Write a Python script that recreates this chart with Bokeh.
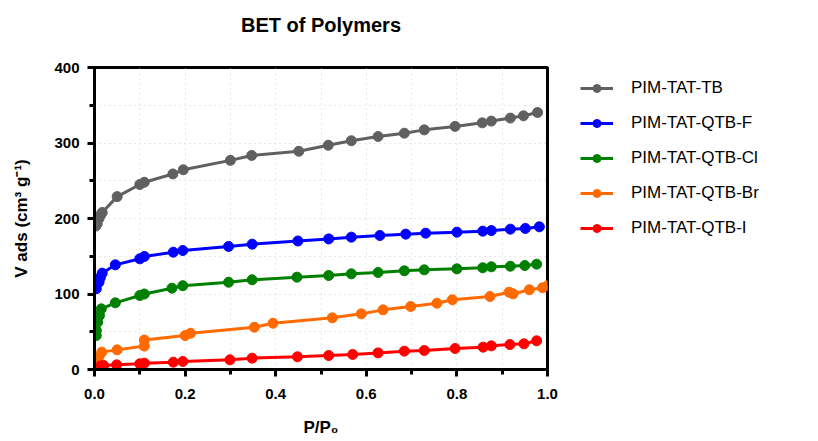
from bokeh.plotting import figure
from bokeh.models import FixedTicker, PrintfTickFormatter, Legend, LegendItem, Range1d, Title
from bokeh.embed import file_html
from bokeh.resources import INLINE

# Nitrogen adsorption isotherms (relative pressure vs. adsorbed volume)
tb_p = [0.003, 0.006, 0.010, 0.014, 0.017, 0.050, 0.100, 0.110, 0.173, 0.196, 0.300, 0.347,
        0.451, 0.516, 0.567, 0.626, 0.684, 0.728, 0.796, 0.856, 0.876, 0.918, 0.947, 0.978]
tb_v = [190, 193, 200, 205, 208, 229, 245, 248, 259, 264.5, 277, 283.5,
        289, 297, 303, 308.6, 313, 317.4, 322, 326.7, 329, 333, 336, 340.4]

f_p = [0.004, 0.010, 0.013, 0.017, 0.046, 0.100, 0.110, 0.174, 0.195, 0.296, 0.348,
       0.449, 0.517, 0.567, 0.630, 0.687, 0.731, 0.800, 0.857, 0.876, 0.918, 0.951, 0.982]
f_v = [107, 115.6, 122, 127.6, 138.6, 146.6, 149.7, 155.4, 157.6, 163, 166,
       170.2, 173, 175.3, 177.5, 179.3, 180.6, 181.9, 183.2, 184, 185.9, 186.8, 189]

cl_p = [0.004, 0.004, 0.007, 0.011, 0.015, 0.046, 0.100, 0.110, 0.171, 0.195, 0.296, 0.348,
        0.447, 0.517, 0.567, 0.626, 0.684, 0.728, 0.800, 0.857, 0.876, 0.918, 0.950, 0.976]
cl_v = [45, 51.6, 62.7, 71.5, 80.3, 88.3, 98, 100, 107.7, 111, 115.6, 118.8,
        122.3, 124.5, 126.7, 128.5, 130.7, 132, 133.3, 134.7, 136, 136.8, 137.7, 139.5]

br_p = [0.004, 0.006, 0.010, 0.016, 0.050, 0.110, 0.110, 0.200, 0.212, 0.353, 0.394,
        0.525, 0.589, 0.637, 0.698, 0.756, 0.790, 0.873, 0.915, 0.924, 0.960, 0.989, 1.000]
br_v = [5.3, 11, 17, 23, 26, 31, 39, 45, 48, 56, 61.3,
        68.4, 73.7, 79, 83.4, 87.8, 92.3, 96.7, 102.4, 100.2, 105.6, 108.2, 110.8]

i_p = [0.002, 0.013, 0.020, 0.049, 0.100, 0.110, 0.174, 0.195, 0.299, 0.348,
       0.448, 0.517, 0.570, 0.626, 0.684, 0.728, 0.796, 0.858, 0.876, 0.917, 0.948, 0.976]
i_v = [0.5, 4.5, 5.3, 6.2, 7.5, 8.4, 9.7, 10.6, 12.8, 15,
       16.8, 18.5, 19.9, 22, 24.3, 25.2, 27.8, 29.6, 31.3, 33, 34, 38]

series_names = ["PIM-TAT-TB", "PIM-TAT-QTB-F", "PIM-TAT-QTB-Cl", "PIM-TAT-QTB-Br", "PIM-TAT-QTB-I"]
series_colors = ["#606060", "#0000ff", "#008000", "#ff6a00", "#ff0000"]
series_data = [(tb_p, tb_v), (f_p, f_v), (cl_p, cl_v), (br_p, br_v), (i_p, i_v)]

x_major = [0.0, 0.2, 0.4, 0.6, 0.8, 1.0]
x_minor = [0.1, 0.3, 0.5, 0.7, 0.9]
y_major = [0, 100, 200, 300, 400]
y_minor = [50, 150, 250, 350]

FONT = "Liberation Sans"

p = figure(
    frame_width=453, frame_height=302,
    min_border_left=94, min_border_right=10, min_border_top=67, min_border_bottom=72,
    x_range=Range1d(0, 1.0), y_range=Range1d(0, 400),
    output_backend="svg", toolbar_location=None,
)
p.background_fill_color = "white"
p.border_fill_color = "white"
p.outline_line_color = "black"
p.outline_line_width = 3
p.outline_line_alpha = 1

# blank spacer panel between the frame and the heading, keeping the heading near the top edge
p.add_layout(Title(text=" ", text_font_size="10px", standoff=19), "above")
p.add_layout(Title(text="BET of Polymers", align="center", vertical_align="bottom",
                   text_font=FONT, text_font_size="20px", text_font_style="bold",
                   text_color="black", offset=0, standoff=0), "above")

p.xaxis.ticker = FixedTicker(ticks=x_major, minor_ticks=x_minor)
p.yaxis.ticker = FixedTicker(ticks=y_major, minor_ticks=y_minor)
p.xaxis.formatter = PrintfTickFormatter(format="%.1f")
p.xaxis.axis_label = "P/P\u2080"
p.yaxis.axis_label = "V ads (cm\u00b3 g\u207b\u00b9)"

for ax in (p.xaxis[0], p.yaxis[0]):
    ax.axis_line_width = 3
    ax.axis_line_color = "black"
    ax.major_tick_line_width = 3
    ax.major_tick_line_color = "black"
    ax.major_tick_out = 7
    ax.major_tick_in = 0
    ax.minor_tick_line_width = 3
    ax.minor_tick_line_color = "black"
    ax.minor_tick_out = 5
    ax.minor_tick_in = 0
    ax.major_label_text_font = FONT
    ax.major_label_text_font_style = "bold"
    ax.major_label_text_font_size = "15px"
    ax.major_label_text_color = "black"
    ax.axis_label_text_font = FONT
    ax.axis_label_text_font_style = "bold"
    ax.axis_label_text_font_size = "17px"
    ax.axis_label_text_color = "black"
p.xaxis.major_label_standoff = 12
p.xaxis.axis_label_standoff = 16
p.yaxis.major_label_standoff = 8
p.yaxis.axis_label_standoff = 20

p.xgrid.ticker = FixedTicker(ticks=[0.1, 0.2, 0.3, 0.4, 0.5, 0.6, 0.7, 0.8, 0.9])
p.ygrid.ticker = FixedTicker(ticks=[50, 100, 150, 200, 250, 300, 350])
for g in (p.xgrid[0], p.ygrid[0]):
    g.grid_line_color = "#d0d0d0"
    g.grid_line_dash = "1 4"
    g.grid_line_width = 1

items = []
for name, color, (px, pv) in zip(series_names, series_colors, series_data):
    ln = p.line(px, pv, line_color=color, line_width=3)
    sc = p.scatter(px, pv, size=10, fill_color=color, line_color=color)
    items.append(LegendItem(label=name, renderers=[ln, sc]))

legend = Legend(items=items, location=(33, 131), orientation="vertical")
legend.background_fill_alpha = 0
legend.border_line_alpha = 0
legend.padding = 0
legend.margin = 0
legend.spacing = 15
legend.glyph_width = 33
legend.glyph_height = 20
legend.label_height = 20
legend.label_standoff = 18
legend.label_text_font = FONT
legend.label_text_font_size = "17px"
legend.label_text_color = "black"
legend.label_text_baseline = "middle"
p.add_layout(legend, "right")

open("out.html", "w").write(file_html(p, INLINE))
